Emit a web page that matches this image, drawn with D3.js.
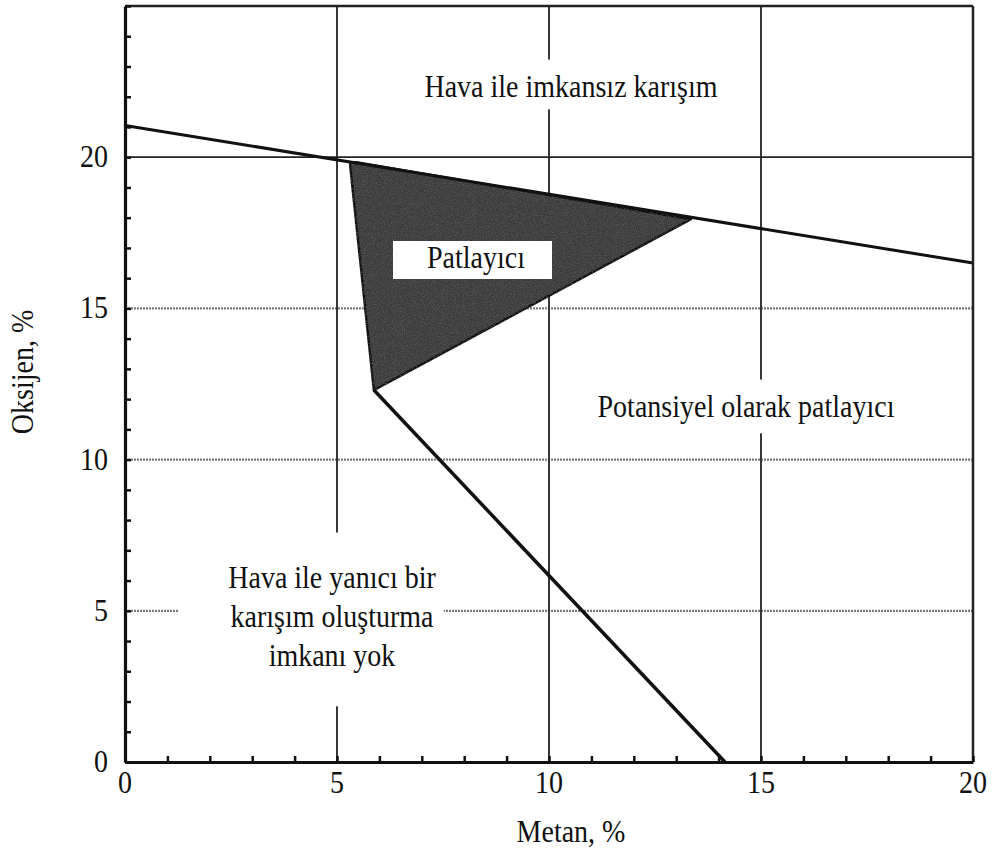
<!DOCTYPE html>
<html>
<head>
<meta charset="utf-8">
<script src="https://cdn.jsdelivr.net/npm/d3@7/dist/d3.min.js"></script>
<style>
  html, body { margin: 0; padding: 0; background: #fff; }
  svg { display: block; }
</style>
</head>
<body>
<svg id="chart" width="997" height="853" font-family="'Liberation Serif', 'Times New Roman', Tinos, 'DejaVu Serif', serif"></svg>
<script>
// Methane / oxygen flammability diagram
const xTickValues = [0, 5, 10, 15, 20];
const yTickValues = [0, 5, 10, 15, 20];
const solidGridX = [5, 10, 15];
const solidGridY = [20];
const dottedGridY = [5, 10, 15];

// Air-dilution line (methane mixed into air)
const airLineCH4 = [0, 20];
const airLineO2 = [21.05, 16.5];

// Explosive triangle vertices (CH4 %, O2 %)
const triCH4 = [5.3, 13.35, 5.87];
const triO2 = [19.87, 17.95, 12.3];

// Boundary from the nose of the triangle down to zero oxygen
const noseCH4 = [5.87, 14.15];
const noseO2 = [12.3, 0];

const regionTexts = [
  ["Hava ile imkansız karışım"],
  ["Potansiyel olarak patlayıcı"],
  ["Hava ile yanıcı bir", "karışım oluşturma", "imkanı yok"]
];
const explosiveText = "Patlayıcı";
const xTitle = "Metan, %";
const yTitle = "Oksijen, %";

// ---- layout ----
const svg = d3.select("#chart");
const plotLeft = 125, plotRight = 973, plotTop = 6, plotBottom = 762;
const fontSize = 28, stretchY = 1.12;

const x = d3.scaleLinear().domain([0, 20]).range([plotLeft, plotRight]);
const y = d3.scaleLinear().domain([0, 25]).range([plotBottom, plotTop]);

// Text is set slightly tall, as in the printed figure
function label(parent, str, px, py, anchor = "middle", rotate = 0) {
  return parent.append("text")
    .attr("transform", `translate(${px},${py}) rotate(${rotate}) scale(1,${stretchY})`)
    .attr("text-anchor", anchor)
    .attr("font-size", fontSize)
    .attr("fill", "#111")
    .text(str);
}

// Dotted grid lines
svg.append("g").selectAll("line").data(dottedGridY).join("line")
  .attr("x1", plotLeft).attr("x2", plotRight)
  .attr("y1", d => y(d)).attr("y2", d => y(d))
  .attr("stroke", "#7a7a7a").attr("stroke-width", 2.2)
  .attr("stroke-dasharray", "2,1");

// Solid grid lines
svg.append("g").selectAll("line").data(solidGridX).join("line")
  .attr("x1", d => x(d)).attr("x2", d => x(d))
  .attr("y1", plotTop).attr("y2", plotBottom)
  .attr("stroke", "#222").attr("stroke-width", 1.8);
svg.append("g").selectAll("line").data(solidGridY).join("line")
  .attr("x1", plotLeft).attr("x2", plotRight)
  .attr("y1", d => y(d)).attr("y2", d => y(d))
  .attr("stroke", "#222").attr("stroke-width", 1.8);

// Grain for the explosive zone
const defs = svg.append("defs");
const filt = defs.append("filter").attr("id", "grain").attr("x", 0).attr("y", 0).attr("width", 1).attr("height", 1);
filt.append("feTurbulence").attr("type", "fractalNoise").attr("baseFrequency", 0.9).attr("numOctaves", 2).attr("seed", 3).attr("result", "noise");
filt.append("feColorMatrix").attr("in", "noise").attr("type", "matrix")
  .attr("values", "0 0 0 0 0.2  0 0 0 0 0.2  0 0 0 0 0.2  0 0 0 -0.9 0.5").attr("result", "dots");
filt.append("feComposite").attr("in", "dots").attr("in2", "SourceGraphic").attr("operator", "in").attr("result", "cut");
filt.append("feMerge").call(m => { m.append("feMergeNode").attr("in", "SourceGraphic"); m.append("feMergeNode").attr("in", "cut"); });

const tri = triCH4.map((c, i) => [x(c), y(triO2[i])]);
svg.append("path")
  .attr("d", d3.line()(tri) + "Z")
  .attr("fill", "#3e3e3e")
  .attr("stroke", "#111").attr("stroke-width", 2.5).attr("stroke-linejoin", "miter")
  .attr("filter", "url(#grain)");

// Boundary lines
const line = d3.line();
svg.append("path")
  .attr("d", line(airLineCH4.map((c, i) => [x(c), y(airLineO2[i])])))
  .attr("fill", "none").attr("stroke", "#111").attr("stroke-width", 3);
svg.append("path")
  .attr("d", line(noseCH4.map((c, i) => [x(c), y(noseO2[i])])))
  .attr("fill", "none").attr("stroke", "#111").attr("stroke-width", 3.5);

// Frame
svg.append("line").attr("x1", plotLeft).attr("x2", plotRight).attr("y1", plotTop).attr("y2", plotTop)
  .attr("stroke", "#222").attr("stroke-width", 2.5);
svg.append("line").attr("x1", plotRight).attr("x2", plotRight).attr("y1", plotTop).attr("y2", plotBottom)
  .attr("stroke", "#222").attr("stroke-width", 2.5);

// Axes with inner minor ticks every 1 %
const xAxis = d3.axisBottom(x).tickValues(d3.range(0, 21, 1)).tickSizeInner(-6).tickSizeOuter(0).tickFormat("");
const yAxis = d3.axisLeft(y).tickValues(d3.range(0, 26, 1)).tickSizeInner(-6).tickSizeOuter(0).tickFormat("");
const gx = svg.append("g").attr("transform", `translate(0,${plotBottom})`).call(xAxis);
const gy = svg.append("g").attr("transform", `translate(${plotLeft},0)`).call(yAxis);
[gx, gy].forEach(g => {
  g.select(".domain").attr("stroke", "#111").attr("stroke-width", 3.2);
  g.selectAll(".tick line").attr("stroke", "#111").attr("stroke-width", 2.5);
});

// Tick labels
const tl = svg.append("g");
xTickValues.forEach(v => label(tl, String(v), x(v), 793));
yTickValues.forEach(v => label(tl, String(v), 108, y(v) + 10, "end"));

// Axis titles
label(svg, xTitle, 571, 842);
label(svg, yTitle, 33, 372, "middle", -90);

// Region labels on white backgrounds: [centre x, first baseline, line gap, box pads l,t,r,b]
const regionPlacement = [
  [571, 97, 0, [12, 10, 12, 6]],
  [746, 417, 0, [12, 10, 12, 10]],
  [332, 588, 39, [50, 28, 8, 34]]
];
regionTexts.forEach((lines, k) => {
  const [cx, by, gap, pad] = regionPlacement[k];
  const g = svg.append("g");
  const nodes = lines.map((t, i) => label(g, t, cx, by + i * gap));
  let x0 = Infinity, y0 = Infinity, x1 = -Infinity, y1 = -Infinity;
  nodes.forEach(n => {
    const b = n.node().getBoundingClientRect();
    x0 = Math.min(x0, b.left); y0 = Math.min(y0, b.top);
    x1 = Math.max(x1, b.right); y1 = Math.max(y1, b.bottom);
  });
  g.insert("rect", "text")
    .attr("x", x0 - pad[0]).attr("y", y0 - pad[1])
    .attr("width", x1 - x0 + pad[0] + pad[2]).attr("height", y1 - y0 + pad[1] + pad[3])
    .attr("fill", "#fff");
});

// Boxed label inside the explosive zone
{
  const g = svg.append("g");
  label(g, explosiveText, 476, 268);
  g.insert("rect", "text")
    .attr("x", 393).attr("y", 241)
    .attr("width", 159).attr("height", 38)
    .attr("fill", "#fff");
}
</script>
</body>
</html>
